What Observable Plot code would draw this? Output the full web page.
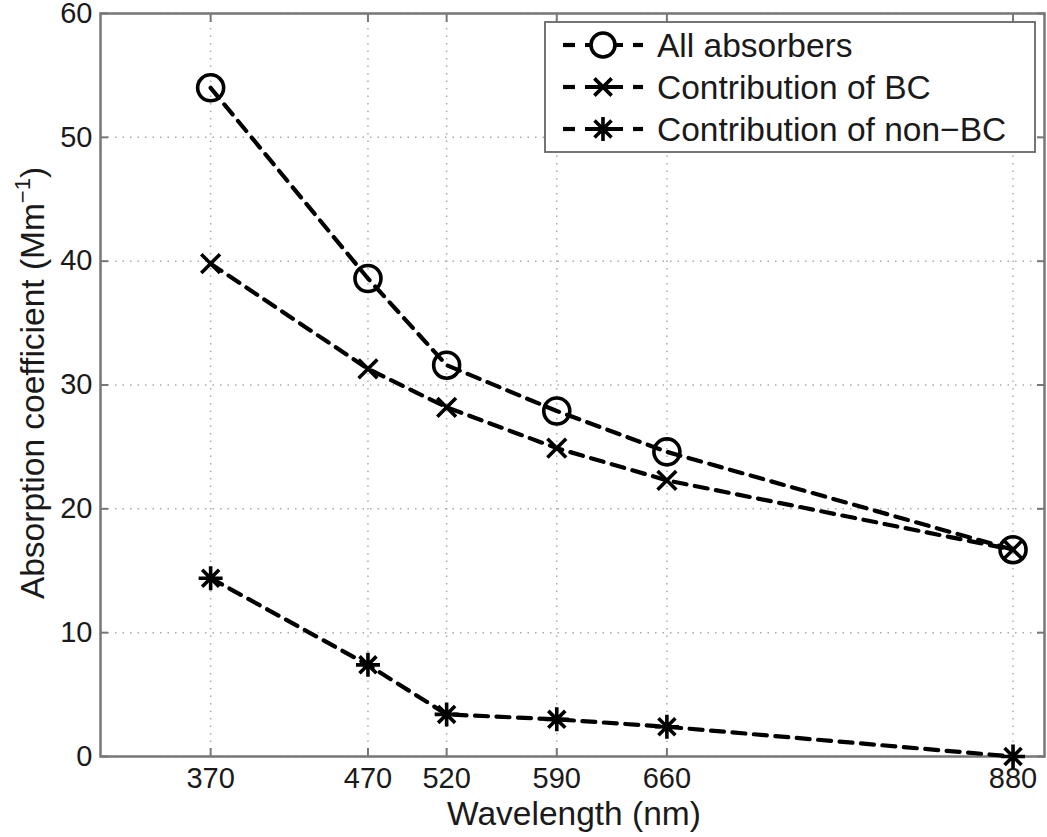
<!DOCTYPE html>
<html><head><meta charset="utf-8">
<script src="https://cdn.jsdelivr.net/npm/d3@7"></script>
<script src="https://cdn.jsdelivr.net/npm/@observablehq/plot@0.6"></script>
<style>
body{margin:0;background:#fff;}
#chart svg{font-family:"Liberation Sans",Arial,Helvetica,sans-serif;background:#fff;}
</style>
</head><body><div id="chart"></div>
<script>
// ---- data ----
const wavelengths = [370, 470, 520, 590, 660, 880];
const allAbsorbers = [54.0, 38.6, 31.6, 27.9, 24.6, 16.7];
const bcContribution = [39.8, 31.3, 28.2, 24.9, 22.3, 16.7];
const nonBcContribution = [14.4, 7.4, 3.4, 3.0, 2.4, 0.0];
const seriesNames = ["All absorbers", "Contribution of BC", "Contribution of non\u2212BC"];
const xTicks = [370, 470, 520, 590, 660, 880];
const yTicks = [0, 10, 20, 30, 40, 50, 60];
const xLabel = "Wavelength (nm)";
const yLabelMain = "Absorption coefficient (Mm";
const yLabelSup = "\u22121";

// ---- symbols ----
const timesSymbol = {draw(ctx, size){ const r = Math.sqrt(size/Math.PI)*0.72;
  ctx.moveTo(-r,-r); ctx.lineTo(r,r); ctx.moveTo(r,-r); ctx.lineTo(-r,r);} };
const asteriskSymbol = {draw(ctx, size){ const r = Math.sqrt(size/Math.PI); const d = r*Math.SQRT1_2;
  ctx.moveTo(-r,0); ctx.lineTo(r,0); ctx.moveTo(0,-r); ctx.lineTo(0,r);
  ctx.moveTo(-d,-d); ctx.lineTo(d,d); ctx.moveTo(d,-d); ctx.lineTo(-d,d);} };
const circleSymbol = {draw(ctx, size){ const r = Math.sqrt(size/Math.PI); ctx.moveTo(r,0); ctx.arc(0,0,r,0,2*Math.PI);} };

const seriesValues = [allAbsorbers, bcContribution, nonBcContribution];
const seriesSymbols = [circleSymbol, timesSymbol, asteriskSymbol];
const seriesR = [13, 13, 12];

const rows = seriesNames.flatMap((name, s) => wavelengths.map((w, i) => ({series: name, s, wavelength: w, value: seriesValues[s][i]})));

const W = 1047, H = 837;
const dash = "13,8.5";
const font = "Liberation Sans, Arial, Helvetica, sans-serif";
const ink = "#1a1a1a";
const labelSize = 33.5;
const tickSize = 29;

const plot = Plot.plot({
  width: W, height: H,
  marginLeft: 100, marginRight: 3, marginTop: 13, marginBottom: 81,
  style: {fontFamily: font, background: "#fff", color: ink},
  x: {domain: [300, 900], label: null},
  y: {domain: [0, 60], label: null},
  marks: [
    Plot.gridX(xTicks, {stroke: "#aaa", strokeOpacity: 1, strokeWidth: 1.5, strokeDasharray: "1.5,6"}),
    Plot.gridY(yTicks, {stroke: "#aaa", strokeOpacity: 1, strokeWidth: 1.5, strokeDasharray: "1.5,6"}),
    Plot.axisX(xTicks, {anchor: "bottom", tickSize: 0, tickPadding: 11, fontSize: tickSize, label: null, fill: ink}),
    Plot.axisX(xTicks, {anchor: "bottom", tickSize: -8, text: null, label: null, stroke: "#777", strokeWidth: 2}),
    Plot.axisX(xTicks, {anchor: "top", tickSize: -8, text: null, label: null, stroke: "#777", strokeWidth: 2}),
    Plot.axisY(yTicks, {anchor: "left", tickSize: 0, tickPadding: 8, fontSize: tickSize, label: null, fill: ink}),
    Plot.axisY(yTicks, {anchor: "left", tickSize: -8, text: null, label: null, stroke: "#777", strokeWidth: 2}),
    Plot.axisY(yTicks, {anchor: "right", tickSize: -8, text: null, label: null, stroke: "#777", strokeWidth: 2}),
    Plot.frame({stroke: "#777", strokeWidth: 2.5}),
    Plot.line(rows, {x: "wavelength", y: "value", z: "series", stroke: "#000", strokeWidth: 4.2, strokeDasharray: dash}),
    ...seriesNames.map((name, s) => Plot.dot(rows.filter(d => d.s === s), {
      x: "wavelength", y: "value", symbol: () => seriesSymbols[s], r: seriesR[s],
      stroke: "#000", strokeWidth: 3.6, fill: "none"
    }))
  ]
});
document.getElementById("chart").appendChild(plot);

// ---- labels & legend (layout only) ----
const svg = d3.select(plot);
svg.append("text")
  .attr("x", 574).attr("y", 825)
  .attr("text-anchor", "middle").attr("font-size", labelSize)
  .attr("fill", ink).attr("font-family", font)
  .text(xLabel);

const yl = svg.append("text")
  .attr("transform", "translate(44,383) rotate(-90)")
  .attr("text-anchor", "middle").attr("font-size", labelSize)
  .attr("fill", ink).attr("font-family", font);
yl.append("tspan").text(yLabelMain);
yl.append("tspan").attr("font-size", 22).attr("dy", -14).text(yLabelSup);
yl.append("tspan").attr("dy", 14).text(")");

const lg = svg.append("g");
lg.append("rect").attr("x", 545).attr("y", 22).attr("width", 490).attr("height", 130)
  .attr("fill", "#fff").attr("stroke", "#666").attr("stroke-width", 1.8);
const rowY = [45, 87, 129];
seriesNames.forEach((name, s) => {
  const y = rowY[s];
  lg.append("line").attr("x1", 563).attr("x2", 575).attr("y1", y).attr("y2", y)
    .attr("stroke", "#000").attr("stroke-width", 4.2);
  lg.append("line").attr("x1", 585).attr("x2", 623).attr("y1", y).attr("y2", y)
    .attr("stroke", "#000").attr("stroke-width", 4.2);
  lg.append("line").attr("x1", 633).attr("x2", 643).attr("y1", y).attr("y2", y)
    .attr("stroke", "#000").attr("stroke-width", 4.2);
  lg.append("path").attr("transform", `translate(603,${y})`)
    .attr("d", d3.symbol(seriesSymbols[s], Math.PI * 12 ** 2)())
    .attr("fill", s === 0 ? "#fff" : "none").attr("stroke", "#000").attr("stroke-width", 3.6);
  lg.append("text").attr("x", 657).attr("y", y).attr("dy", "0.36em")
    .attr("text-anchor", "start")
    .attr("font-size", labelSize).attr("fill", ink).attr("font-family", font)
    .text(name);
});
</script>
</body></html>
